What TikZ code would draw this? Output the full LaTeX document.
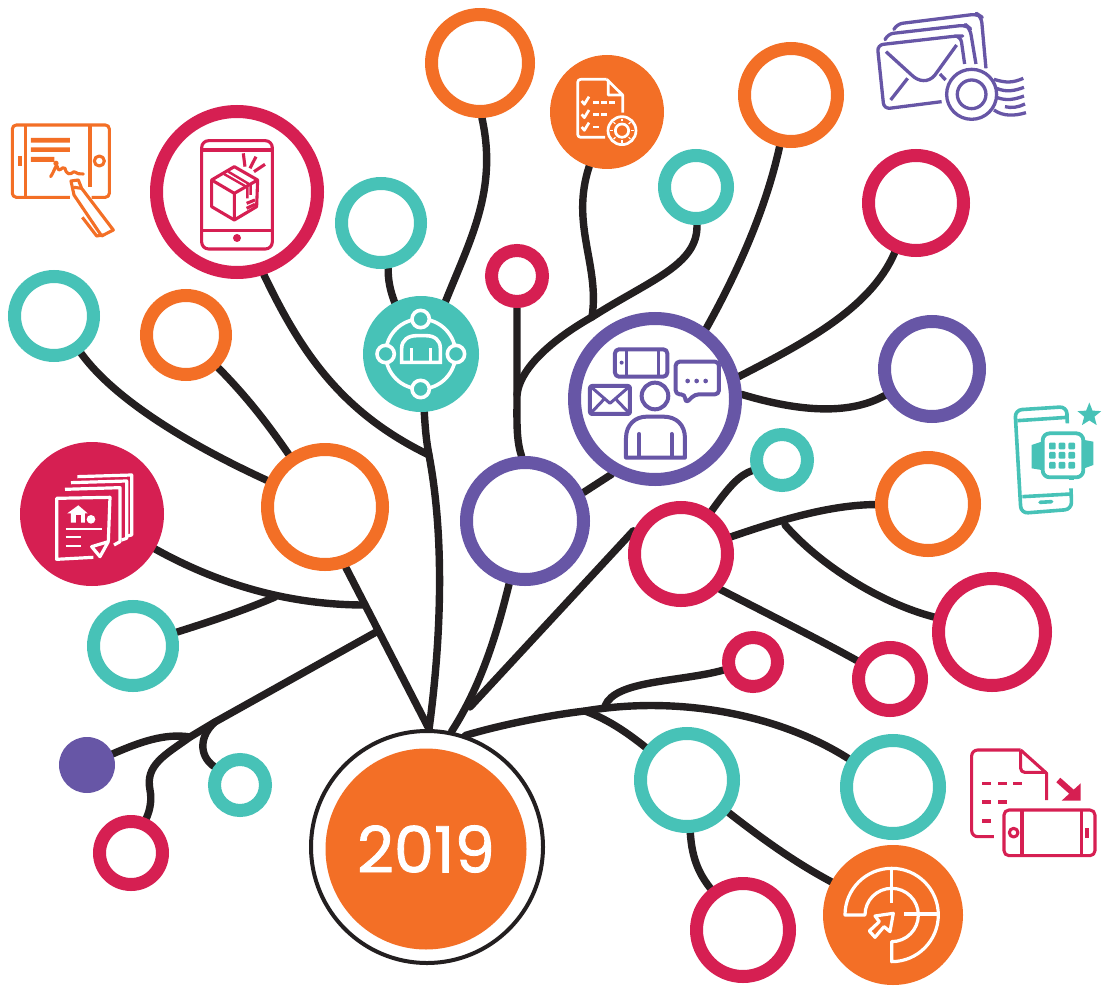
\documentclass[tikz,border=0pt]{standalone}
\usepackage{fontspec}
\usetikzlibrary{backgrounds,shapes.geometric}
\newfontfamily\yearfont{Poppins}[FakeBold=1.3]
\definecolor{orng}{HTML}{F36F26}
\definecolor{teal}{HTML}{47C2B7}
\definecolor{crim}{HTML}{D61F52}
\definecolor{purp}{HTML}{6756A6}
\definecolor{dark}{HTML}{231F20}
\begin{document}
\begin{tikzpicture}[x=1pt,y=-1pt]
  \tikzstyle{ring}=[circle,draw,fill=white,line width=13pt,inner sep=0pt]
  \tikzstyle{disc}=[circle,inner sep=0pt]
  \tikzstyle{branch}=[draw=dark,line width=7.4pt,line cap=round]
  \tikzstyle{icon}=[line width=3.1pt,line join=round]
  \useasboundingbox (0,0) rectangle (1105,987);

  \foreach \name/\x/\y/\r in {O-1/480/63/55, O-2/791/95/53, O-3/186/335/46, O-4/325/507/64, O-5/928/504/53}
    \node[ring,draw=orng,minimum size={2*\r-13}] (\name) at (\x,\y) {};
  \foreach \name/\x/\y/\r in {T-1/381/223/46, T-2/54/316/46, T-3/696/187/38, T-4/133/646/46, T-5/782/460/32, T-6/240/785/32, T-7/687/780/53, T-8/893/787/53}
    \node[ring,draw=teal,minimum size={2*\r-13}] (\name) at (\x,\y) {};
  \foreach \name/\x/\y/\r in {C-1/237/192/87, C-2/517/276/32, C-3/916/203/54, C-4/681/554/53, C-5/992/632/60, C-6/890/679/38, C-7/753/662/31, C-8/131/853/38, C-9/743/930/53}
    \node[ring,draw=crim,minimum size={2*\r-13}] (\name) at (\x,\y) {};
  \foreach \name/\x/\y/\r in {P-1/655/399/87, P-2/932/369/54, P-3/525/521/65}
    \node[ring,draw=purp,minimum size={2*\r-13}] (\name) at (\x,\y) {};

  \foreach \name/\x/\y/\r/\c in {D-1/607/112/57/orng, D-2/421/354/58/teal, D-3/92/514/72/crim, D-4/87/765/28/purp, D-5/893/915/70/orng}
    \node[disc,fill=\c,minimum size={2*\r}] (\name) at (\x,\y) {};

  \node[circle,draw=dark,fill=white,line width=4pt,inner sep=0pt,minimum size=232pt] (Root) at (427,847) {};
  \node[disc,fill=orng,minimum size=201pt,text=white,font=\yearfont\fontsize{64}{64}\selectfont] (Year) at (426,849) {2019};

  \foreach \name/\x/\y in {J-1/378/631, J-2/365/605, J-3/429/455, J-4/470/707, J-5/585/711, J-6/605/706, J-7/275/597, J-8/215/722, J-9/190/737, J-10/517/395, J-11/592/317, J-12/785/525}
    \coordinate (\name) at (\x,\y);

  \begin{scope}[on background layer]
    \draw[branch] (Root.89) -- (O-4.-71);
    \draw[branch] (Root.89) .. controls (441,640) and (445,540) .. (J-3) .. controls (426,440) and (425,425) .. (D-2);
    \draw[branch] (C-1.-72) .. controls (300,350) and (340,412) .. (J-3);
    \draw[branch] (Root.78) .. controls (485,680) and (500,620) .. (P-3);
    \draw[branch] (J-4) -- (C-4.154);
    \draw[branch] (Root.71) .. controls (500,725) and (550,715) .. (J-5) .. controls (680,695) and (780,715) .. (T-8);
    \draw[branch] (J-6) .. controls (615,680) and (680,682) .. (C-7);
    \draw[branch] (J-5) .. controls (610,720) and (630,735) .. (T-7);
    \draw[branch] (T-7) .. controls (692,860) and (700,875) .. (C-9);
    \draw[branch] (T-7) .. controls (770,845) and (800,865) .. (D-5);
    \draw[branch] (J-1) -- (J-8) -- (J-9) .. controls (165,755) and (145,765) .. (150,790) .. controls (152,800) and (150,810) .. (C-8);
    \draw[branch] (J-9) .. controls (165,733) and (140,742) .. (D-4);
    \draw[branch] (J-8) .. controls (200,735) and (198,755) .. (T-6);
    \draw[branch] (O-4) .. controls (190,445) and (115,400) .. (T-2);
    \draw[branch] (O-4) .. controls (265,420) and (245,395) .. (O-3);
    \draw[branch] (D-3) .. controls (220,585) and (290,605) .. (J-2);
    \draw[branch] (J-7) .. controls (245,610) and (215,620) .. (T-4);
    \draw[branch] (D-2.65) .. controls (470,240) and (498,190) .. (O-1.-88);
    \draw[branch] (T-1.-81) .. controls (388,280) and (390,290) .. (D-2.117);
    \draw[branch] (P-3.93) .. controls (516,440) and (517,420) .. (J-10) -- (C-2);
    \draw[branch] (J-10) .. controls (520,365) and (560,335) .. (J-11) .. controls (650,280) and (698,265) .. (T-3);
    \draw[branch] (J-11) .. controls (600,265) and (570,225) .. (D-1);
    \draw[branch] (P-3.26) -- (P-1.240);
    \draw[branch] (P-1.54) .. controls (750,250) and (770,190) .. (O-2);
    \draw[branch] (P-1.15) .. controls (800,345) and (870,310) .. (C-3);
    \draw[branch] (P-1.3) .. controls (800,412) and (850,415) .. (P-2);
    \draw[branch] (C-4) .. controls (730,485) and (740,475) .. (T-5);
    \draw[branch] (C-4) .. controls (780,520) and (830,505) .. (O-5);
    \draw[branch] (J-12) .. controls (820,565) and (880,603) .. (C-5);
    \draw[branch] (C-4.-42) .. controls (770,615) and (820,640) .. (C-6);
  \end{scope}

  % tablet and pen
  \begin{scope}[shift={(0,100)},scale=.3333,icon,draw=orng]
    \draw[rounded corners=4pt] (210,292) -- (37,292) -- (37,75) -- (328,75) -- (328,292) -- (275,292);
    \draw (76,75) -- (76,292) (270,75) -- (270,262);
    \draw (60,168) -- (60,198);
    \draw (298,183) circle (15);
    \fill[orng] (93,114) rectangle (210,128) (93,142) rectangle (210,156) (93,171) rectangle (163,186);
    \fill[orng] (168,190) circle (8);
    \draw[line cap=round] (152,230) .. controls (165,210) and (168,190) .. (172,200) .. controls (178,225) and (185,195) .. (195,205) .. controls (200,225) and (210,225) .. (222,215) .. controls (230,222) and (240,222) .. (250,222);
    \draw (213,243) -- (235,240) -- (245,265) -- (340,390) -- (305,408) -- (222,285) -- cycle;
    \draw (222,262) -- (245,265);
    \draw (247,352) -- (290,408) -- (310,405);
  \end{scope}

  % phone with parcel
  \begin{scope}[shift={(0,100)},scale=.3333,icon,draw=crim]
    \draw[rounded corners=7pt] (605,122) rectangle (817,447);
    \draw[line width=3.6pt] (605,150) -- (817,150);
    \draw (605,392) -- (817,392);
    \fill[crim] (711,414) circle (12);
    \draw (703,200) -- (773,240) -- (770,320) -- (703,360) -- (635,320) -- (635,240) -- cycle;
    \draw (635,240) -- (703,280) -- (773,240) (703,280) -- (703,360);
    \draw[line width=2.4pt] (672,222) -- (742,262) -- (742,295) (685,215) -- (752,255) -- (752,285);
    \draw (740,310) -- (765,300) (740,325) -- (765,313);
    \draw (730,160) -- (735,200) (768,170) -- (750,205) (795,193) -- (762,215);
  \end{scope}

  % checklist and gear
  \begin{scope}[shift={(540,0)},scale=.3333,icon,line width=2.7pt,draw=white]
    \draw[rounded corners=3pt] (195,412) -- (113,412) -- (113,238) -- (200,238);
    \draw (200,238) -- (248,285) -- (248,338) (205,240) -- (205,285) -- (248,285);
    \foreach \y in {290,330,368}
      \draw (125,\y+13) -- (133,\y+23) -- (147,\y);
    \draw[dash pattern=on 6pt off 2pt] (160,307) -- (232,307) (160,343) -- (205,343);
    \draw (160,381) -- (178,381);
    \draw (246,392) circle (42) (246,392) circle (20);
    \foreach \a in {0,45,...,315}
      \draw[line width=1.2pt] (246,392)+(\a:28) -- +(\a:36);
  \end{scope}

  % envelopes and stamp
  \begin{scope}[shift={(540,0)},scale=.3333,icon,line width=3.3pt,draw=purp]
    \draw[rounded corners=6pt] (1205,305) -- (1032,327) -- (1012,135) -- (1250,108) -- (1262,108) -- (1274,192);
    \draw[rounded corners=6pt] (1037,115) -- (1042,102) -- (1278,75) -- (1290,85) -- (1308,192);
    \draw[rounded corners=6pt] (1062,88) -- (1070,72) -- (1312,42) -- (1324,50) -- (1338,205);
    \draw (1038,155) -- (1115,225) .. controls (1135,245) and (1165,250) .. (1185,225) -- (1250,135);
    \draw (1103,235) -- (1052,300) (1200,222) -- (1217,240);
    \draw (1295,283) circle (75) (1295,283) circle (43);
    \draw (1362,238) .. controls (1400,250) and (1420,248) .. (1450,235);
    \draw (1370,265) .. controls (1400,278) and (1425,272) .. (1452,262);
    \draw (1370,292) .. controls (1400,304) and (1425,298) .. (1452,288);
    \draw (1395,320) .. controls (1415,325) and (1435,322) .. (1455,312);
    \draw (1362,330) .. controls (1390,350) and (1425,348) .. (1458,338);
  \end{scope}

  % group around a person
  \begin{scope}[shift={(360,290)},scale=.3333,line width=3.6pt,draw=white]
    \draw (182,192) circle (105);
    \foreach \x/\y in {182/87,77/192,288/192,182/297}
      \draw[fill=teal] (\x,\y) circle (26);
    \draw (125,217) -- (125,175) .. controls (125,150) and (145,137) .. (170,137) -- (198,137) .. controls (223,137) and (241,150) .. (241,175) -- (241,217) -- cycle;
    \draw (155,175) -- (155,215) (212,175) -- (212,215);
  \end{scope}

  % person with devices
  \begin{scope}[shift={(360,290)},scale=.3333,icon,line width=4pt,draw=purp]
    \draw[rounded corners=4pt] (765,178) rectangle (922,260);
    \draw[line width=3pt] (800,178) -- (800,260) (895,178) -- (895,260);
    \fill[purp] (785,218) circle (6);
    \draw[rounded corners=4pt] (975,313) -- (947,313) -- (947,215) -- (1077,215) -- (1077,313) -- (1005,313) -- (977,340) -- cycle;
    \foreach \x in {983,1010,1037}
      \fill[purp] (\x,273) circle (7);
    \draw[rounded corners=2pt] (690,288) rectangle (810,372);
    \draw[line width=3pt] (690,288) -- (750,340) -- (810,288) (690,372) -- (730,330) (810,372) -- (770,330);
    \draw (885,318) circle (40);
    \draw (798,503) -- (798,445) .. controls (798,405) and (825,380) .. (860,380) -- (910,380) .. controls (950,380) and (975,405) .. (975,445) -- (975,503) -- cycle;
    \draw[line cap=round] (838,432) -- (838,500) (935,432) -- (935,500);
  \end{scope}

  % stack of papers
  \begin{scope}[shift={(10,430)},scale=.3333,icon,line width=3.2pt,draw=white]
    \draw (250,382) -- (140,388) -- (140,205) -- (300,202) -- (295,335);
    \draw (245,350) -- (295,335) -- (270,380) -- cycle;
    \draw (165,178) -- (330,173) -- (330,335) -- (312,345);
    \draw (183,158) -- (350,153) -- (350,325) -- (335,330);
    \draw (202,140) -- (365,135) -- (365,315) -- (352,318);
    \fill[white] (172,250) -- (205,226) -- (233,250) -- (225,250) -- (225,278) -- (183,278) -- (183,250) -- cycle;
    \fill[crim] (198,255) rectangle (212,278);
    \fill[white] (243,268) circle (13);
    \draw[line width=2pt] (167,297) -- (277,297);
    \draw[line width=2pt] (167,321) -- (213,321) (167,348) -- (213,348);
  \end{scope}

  % phone and watch
  \begin{scope}[shift={(960,390)},scale=.3333,icon,line width=3.6pt,draw=teal]
    \draw[rounded corners=7pt] (322,100) -- (320,50) -- (165,60) -- (183,370) -- (335,358) -- (333,295);
    \draw (172,92) -- (322,82) (187,320) -- (333,312);
    \draw[line cap=round] (240,337) -- (275,335);
    \draw[rounded corners=7pt,line width=3.8pt] (248,130) rectangle (370,262);
    \fill[teal] (245,155) -- (215,165) -- (215,235) -- (245,240) -- cycle;
    \fill[teal] (373,150) -- (400,155) -- (400,225) -- (373,235) -- cycle;
    \fill[teal] (328,262) rectangle (343,270);
    \foreach \x in {277,306,335}
      \foreach \y in {168,196,226}
        \fill[teal,rounded corners=1pt] (\x-10,\y-10) rectangle (\x+10,\y+10);
    \node[star,star points=5,star point ratio=2.3,fill=teal,inner sep=0pt,minimum size=25pt] (Star) at (388,75) {};
  \end{scope}

  % target and arrow
  \begin{scope}[shift={(810,730)},scale=.3333,icon,line width=3.2pt,draw=white]
    \draw (165,555) -- (105,555) arc[start angle=180,end angle=450,radius=140] -- (245,635) arc[start angle=90,end angle=-180,radius=80] -- cycle;
    \draw (245,412) -- (245,520) (282,552) -- (385,552);
    \draw[fill=orng] (250,550) -- (240,605) -- (222,590) -- (195,622) -- (178,603) -- (208,575) -- (195,558) -- cycle;
  \end{scope}

  % document to phone
  \begin{scope}[shift={(810,730)},scale=.3333,icon,draw=crim]
    \draw[rounded corners=6pt] (552,320) -- (485,320) -- (485,60) -- (632,60);
    \draw (632,60) -- (710,130) -- (710,210);
    \draw[rounded corners=4pt] (632,60) -- (632,127) -- (710,127);
    \foreach \x/\y in {517/161,565/161,610/161,517/216,565/216,517/273}
      \draw[line width=3.4pt] (\x,\y) -- (\x+27,\y);
    \draw[rounded corners=5pt] (582,240) rectangle (855,377);
    \draw (636,240) -- (636,377) (815,240) -- (815,377);
    \draw (611,308) circle (13);
    \fill[crim] (826,294) rectangle (836,324);
    \draw[line width=6pt] (745,150) -- (790,190);
    \fill[crim] (812,160) -- (812,212) -- (755,212) -- cycle;
  \end{scope}
\end{tikzpicture}
\end{document}
